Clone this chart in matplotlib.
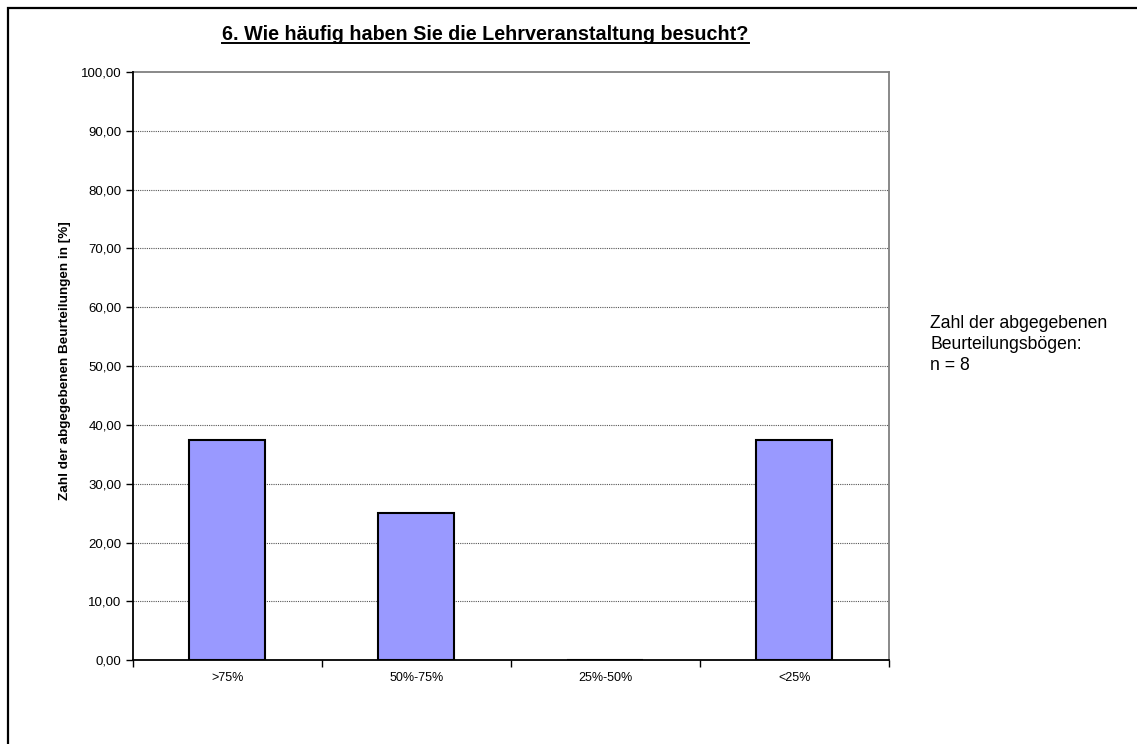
import matplotlib
matplotlib.use("Agg")
import matplotlib.pyplot as plt
from matplotlib.lines import Line2D
from matplotlib.patches import Rectangle
from matplotlib.ticker import FuncFormatter, FixedLocator

plt.rcParams['font.family'] = ['Liberation Sans', 'DejaVu Sans']

categories = [">75%", "50%-75%", "25%-50%", "<25%"]
values = [37.5, 25.0, 0.0, 37.5]
yticks = [0, 10, 20, 30, 40, 50, 60, 70, 80, 90, 100]
title = "6. Wie häufig haben Sie die Lehrveranstaltung besucht?"
ylabel = "Zahl der abgegebenen Beurteilungen in [%]"
side_note = "Zahl der abgegebenen\nBeurteilungsbögen:\nn = 8"

W, H = 1137, 744
fig = plt.figure(figsize=(W / 100, H / 100), dpi=100)
fig.patch.set_facecolor("white")

# outer frame (right/bottom edges lie outside the image)
fig.patches.append(Rectangle((8 / W, -0.05), 1.2, 1 - 8 / H + 0.05,
                             transform=fig.transFigure, fill=False,
                             edgecolor="black", linewidth=1.6, zorder=0))

ax = fig.add_axes([132.7 / W, (H - 660.3) / H, (888.7 - 132.7) / W, (660.3 - 72) / H])
x = list(range(len(categories)))
ax.bar(x, values, width=0.4, color="#9999FF", edgecolor="black", linewidth=1.5, zorder=3)

ax.set_xlim(-0.5, len(categories) - 0.5)
ax.set_ylim(0, 100)
ax.set_yticks(yticks)
ax.yaxis.set_major_formatter(FuncFormatter(lambda v, p: f"{v:.2f}".replace(".", ",")))
ax.set_xticks(x)
ax.set_xticklabels(categories)
ax.xaxis.set_minor_locator(FixedLocator([i - 0.5 for i in range(len(categories) + 1)]))
ax.tick_params(axis="x", which="major", length=0, labelsize=9, pad=8.5)
ax.tick_params(axis="x", which="minor", length=5, width=1, direction="out")
ax.tick_params(axis="y", length=5, width=1, direction="out", labelsize=9.5, pad=3)

for v in yticks[1:-1]:
    ax.axhline(v, color="#555555", linestyle=(0, (1, 1)), linewidth=0.8, zorder=1)

for s in ["left", "bottom"]:
    ax.spines[s].set_color("black")
    ax.spines[s].set_linewidth(1.3)
    ax.spines[s].set_zorder(5)
for s in ["top", "right"]:
    ax.spines[s].set_color("#808080")
    ax.spines[s].set_linewidth(1.3)

fig.text(65.5 / W, 1 - 361 / H, ylabel, rotation=90, ha="center", va="center",
         fontsize=9.7, fontweight="bold")

t = fig.text(485.5 / W, 1 - 34.5 / H, title, ha="center", va="center",
             fontsize=14.2, fontweight="bold")

fig.text(930 / W, 1 - 315 / H, side_note, ha="left", va="top", fontsize=12.7,
         linespacing=1.3)

fig.canvas.draw()
bb = t.get_window_extent(renderer=fig.canvas.get_renderer())
inv = fig.transFigure.inverted()
(x0, y0), (x1, y1) = inv.transform([[bb.x0, bb.y0], [bb.x1, bb.y1]])
uy = y0 + 1.0 / H
fig.lines.append(Line2D([x0, x1], [uy, uy], transform=fig.transFigure,
                        color="black", linewidth=1.4))

fig.savefig("out.png", dpi=100)
